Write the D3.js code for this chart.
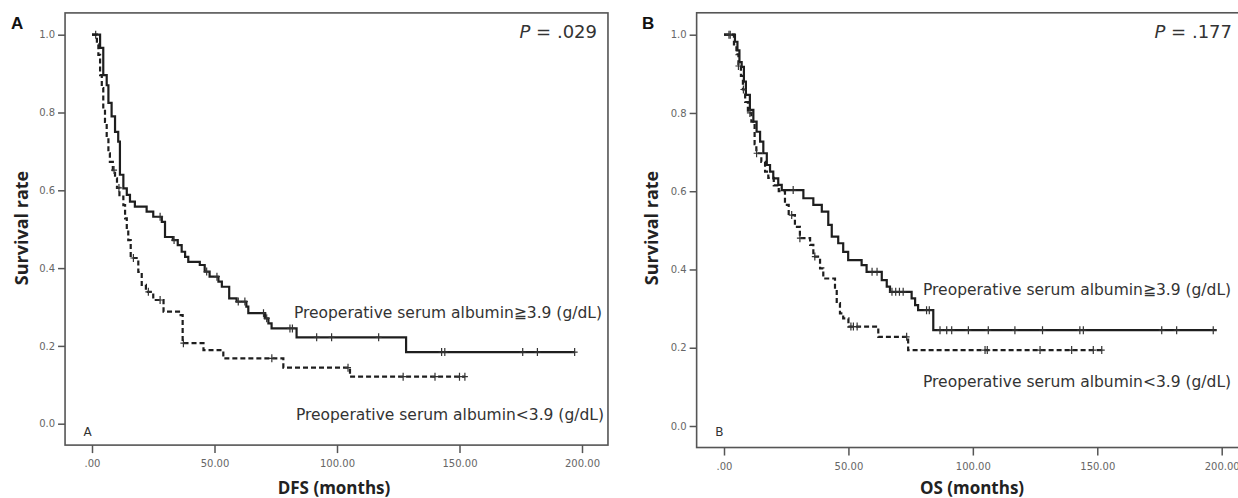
<!DOCTYPE html>
<html>
<head>
<meta charset="utf-8">
<script src="https://cdn.jsdelivr.net/npm/d3@7"></script>
<style>
  body { margin: 0; background: #fff; }
  svg { display: block; }
  .tick text { font-family: "DejaVu Sans", sans-serif; font-size: 10px; fill: #666; }
  .tick line { stroke: #555; stroke-width: 1.5; }
  .ttl { font-family: "Open Sans", sans-serif; font-weight: bold; fill: #222; }
  .lbl { font-family: "DejaVu Sans", sans-serif; fill: #333; }
  .pnl { font-family: "Liberation Sans", Arial, sans-serif; font-weight: bold; fill: #111; }
</style>
</head>
<body>
<svg id="chart" width="1238" height="498"></svg>
<script>
// ---- data ----
const xTicks = [0, 50, 100, 150, 200];
const yTicks = [0, 0.2, 0.4, 0.6, 0.8, 1.0];
const groupLabels = ["Preoperative serum albumin\u22673.9 (g/dL)", "Preoperative serum albumin<3.9 (g/dL)"];
const pValues = [".029", ".177"];

// panel A: DFS, albumin >= 3.9 (solid)
const dfsHighT = [0, 3.3, 4.6, 6.0, 6.7, 8.0, 9.4, 10.7, 11.4, 12.8, 14.2, 15.5, 17.5, 22.3, 25.0, 28.5, 29.8, 33.0, 35.0, 36.6, 38.0, 39.3, 44.0, 46.0, 48.0, 51.6, 53.0, 56.0, 59.0, 63.0, 63.8, 70.6, 72.0, 73.3, 83.5, 128.2, 197];
const dfsHighS = [1.0, 0.966, 0.896, 0.87, 0.825, 0.79, 0.75, 0.725, 0.64, 0.605, 0.588, 0.571, 0.558, 0.545, 0.532, 0.519, 0.48, 0.472, 0.459, 0.442, 0.429, 0.416, 0.408, 0.391, 0.378, 0.365, 0.352, 0.322, 0.314, 0.301, 0.284, 0.271, 0.258, 0.245, 0.222, 0.184, 0.184];
const dfsHighCens = [1.5, 27.8, 33.5, 46.8, 51.0, 59.7, 62.4, 70.0, 71.3, 80.8, 81.8, 91.7, 97.8, 117, 142.7, 144, 175.8, 181.8, 197];
// panel A: DFS, albumin < 3.9 (dashed)
const dfsLowT = [0, 2.0, 2.6, 3.3, 4.0, 4.6, 5.3, 6.0, 6.7, 7.3, 8.5, 9.4, 10.2, 11.2, 12.8, 13.5, 14.2, 14.8, 15.8, 18.9, 20.3, 22.0, 25.0, 29.2, 35.5, 37.0, 45.5, 53.6, 78.1, 105.3, 152.2];
const dfsLowS = [1.0, 0.975, 0.948, 0.896, 0.863, 0.81, 0.776, 0.734, 0.695, 0.673, 0.652, 0.631, 0.606, 0.584, 0.562, 0.528, 0.494, 0.472, 0.426, 0.39, 0.357, 0.339, 0.318, 0.288, 0.279, 0.207, 0.189, 0.168, 0.144, 0.121, 0.121];
const dfsLowCens = [9.0, 11.0, 16.9, 23.0, 27.8, 37.3, 73.4, 104.5, 127, 140, 150, 152.2];

// panel B: OS, albumin >= 3.9 (solid)
const osHighT = [0, 4.4, 5.4, 6.2, 7.1, 8.0, 8.8, 10.4, 11.8, 13.1, 14.5, 15.8, 17.2, 18.5, 19.8, 21.8, 23.2, 31.9, 35.9, 39.3, 41.9, 43.3, 45.9, 47.9, 49.9, 55.3, 57.3, 63.4, 65.4, 66.7, 75.4, 76.8, 78.0, 84.1, 198];
const osHighS = [1.0, 0.982, 0.96, 0.93, 0.918, 0.88, 0.846, 0.808, 0.778, 0.752, 0.727, 0.697, 0.667, 0.65, 0.633, 0.616, 0.603, 0.582, 0.565, 0.548, 0.514, 0.484, 0.467, 0.445, 0.424, 0.411, 0.394, 0.373, 0.356, 0.343, 0.326, 0.309, 0.296, 0.245, 0.245];
const osHighCens = [2.5, 27.8, 59.5, 61.5, 67.5, 69, 70.5, 72, 81.4, 82.5, 86.8, 89.5, 91.5, 98.2, 106.2, 116.9, 128, 143, 144.4, 175.9, 181.9, 196.6];
// panel B: OS, albumin < 3.9 (dashed)
const osLowT = [0, 4.0, 5.0, 5.8, 6.8, 7.6, 8.5, 9.6, 11.0, 12.3, 13.0, 15.0, 16.5, 17.8, 20.0, 22.0, 24.5, 26.0, 28.5, 30.5, 34.6, 35.9, 38.6, 39.9, 44.6, 45.3, 46.6, 47.9, 50.0, 62.0, 74.0, 151.8];
const osLowS = [1.0, 0.975, 0.95, 0.92, 0.895, 0.86, 0.828, 0.8, 0.778, 0.72, 0.697, 0.675, 0.65, 0.634, 0.615, 0.6, 0.565, 0.539, 0.509, 0.48, 0.463, 0.433, 0.403, 0.377, 0.348, 0.314, 0.288, 0.275, 0.254, 0.228, 0.194, 0.194];
const osLowCens = [2.0, 5.8, 7.8, 10.4, 13.1, 27.2, 30.5, 36.5, 51.0, 52.0, 53.5, 73.4, 104.9, 105.8, 127, 139.7, 148.4, 151.8];

const svg = d3.select("#chart");

function survAt(T, S, t) {
  let s = S[0];
  for (let i = 0; i < T.length; i++) if (T[i] <= t) s = S[i];
  return s;
}

function drawPanel(p) {
  const x = d3.scaleLinear().domain([0, 200]).range(p.xr);
  const y = d3.scaleLinear().domain([0, 1]).range(p.yr);
  const g = svg.append("g");

  // frame
  const fx0 = x(-11), fx1 = x(210.6), fy0 = y(1.056), fy1 = y(-0.055);
  g.append("rect")
    .attr("x", fx0).attr("y", fy0)
    .attr("width", fx1 - fx0).attr("height", fy1 - fy0)
    .attr("fill", "none").attr("stroke", "#555").attr("stroke-width", 1.6);

  const yAxis = d3.axisLeft(y).tickValues(yTicks).tickFormat(d3.format(".1f"))
    .tickSize(7).tickPadding(3);
  g.append("g").attr("transform", "translate(" + fx0 + ",0)").call(yAxis)
    .call(a => a.select(".domain").remove());

  const xAxis = d3.axisBottom(x).tickValues(xTicks)
    .tickFormat(d => d === 0 ? ".00" : d.toFixed(2))
    .tickSize(8).tickPadding(7);
  g.append("g").attr("transform", "translate(0," + fy1 + ")").call(xAxis)
    .call(a => a.select(".domain").remove());

  const line = d3.line().curve(d3.curveStepAfter)
    .x(d => x(d[0])).y(d => y(d[1]));

  p.series.forEach(s => {
    const pts = s.T.map((t, i) => [t, s.S[i]]);
    g.append("path").datum(pts)
      .attr("d", line)
      .attr("fill", "none").attr("stroke", "#1e1e1e").attr("stroke-width", 2.2)
      .attr("stroke-dasharray", s.dash ? "5,3" : null);
    // censor marks
    s.C.forEach(c => {
      const cx = x(c), cy = y(survAt(s.T, s.S, c));
      g.append("path")
        .attr("d", "M" + (cx - 3) + "," + cy + "H" + (cx + 3) + "M" + cx + "," + (cy - 4) + "V" + (cy + 4))
        .attr("stroke", "#333").attr("stroke-width", 1.2);
    });
  });

  // texts
  g.append("text").attr("class", "ttl").attr("font-size", 18)
    .attr("transform", "translate(" + p.yTitleX + ",228) rotate(-90)")
    .attr("text-anchor", "middle").text("Survival rate");
  g.append("text").attr("class", "ttl").attr("font-size", 17)
    .attr("x", p.xTitleX).attr("y", 494).attr("text-anchor", "middle").text(p.xTitle);

  const pt = g.append("text").attr("class", "lbl").attr("font-size", 18)
    .attr("x", p.pX).attr("y", 38).attr("text-anchor", "end").attr("fill", "#222");
  pt.append("tspan").attr("font-style", "italic").text("P");
  pt.append("tspan").text(" = " + p.pv);

  g.append("text").attr("class", "pnl").attr("font-size", 17)
    .attr("x", p.letterX).attr("y", 29).text(p.letter);
  g.append("text").attr("class", "lbl").attr("font-size", 12)
    .attr("x", x(-3.5)).attr("y", 436).text(p.letter);

  p.labels.forEach(l => {
    g.append("text").attr("class", "lbl").attr("font-size", 15.5)
      .attr("x", l.x).attr("y", l.y).attr("text-anchor", l.anchor).text(l.text);
  });
}

drawPanel({
  xr: [92, 582], yr: [423.7, 34.7],
  letter: "A", letterX: 11, yTitleX: 28, xTitle: "DFS (months)", xTitleX: 334,
  pv: pValues[0], pX: 597,
  series: [
    { T: dfsHighT, S: dfsHighS, C: dfsHighCens, dash: false },
    { T: dfsLowT, S: dfsLowS, C: dfsLowCens, dash: true }
  ],
  labels: [
    { text: groupLabels[0], x: 602, y: 318, anchor: "end" },
    { text: groupLabels[1], x: 604, y: 420, anchor: "end" }
  ]
});

drawPanel({
  xr: [724, 1221.7], yr: [426, 34.7],
  letter: "B", letterX: 642, yTitleX: 658, xTitle: "OS (months)", xTitleX: 972,
  pv: pValues[1], pX: 1232,
  series: [
    { T: osHighT, S: osHighS, C: osHighCens, dash: false },
    { T: osLowT, S: osLowS, C: osLowCens, dash: true }
  ],
  labels: [
    { text: groupLabels[0], x: 923, y: 295, anchor: "start" },
    { text: groupLabels[1], x: 923, y: 387, anchor: "start" }
  ]
});
</script>
</body>
</html>
